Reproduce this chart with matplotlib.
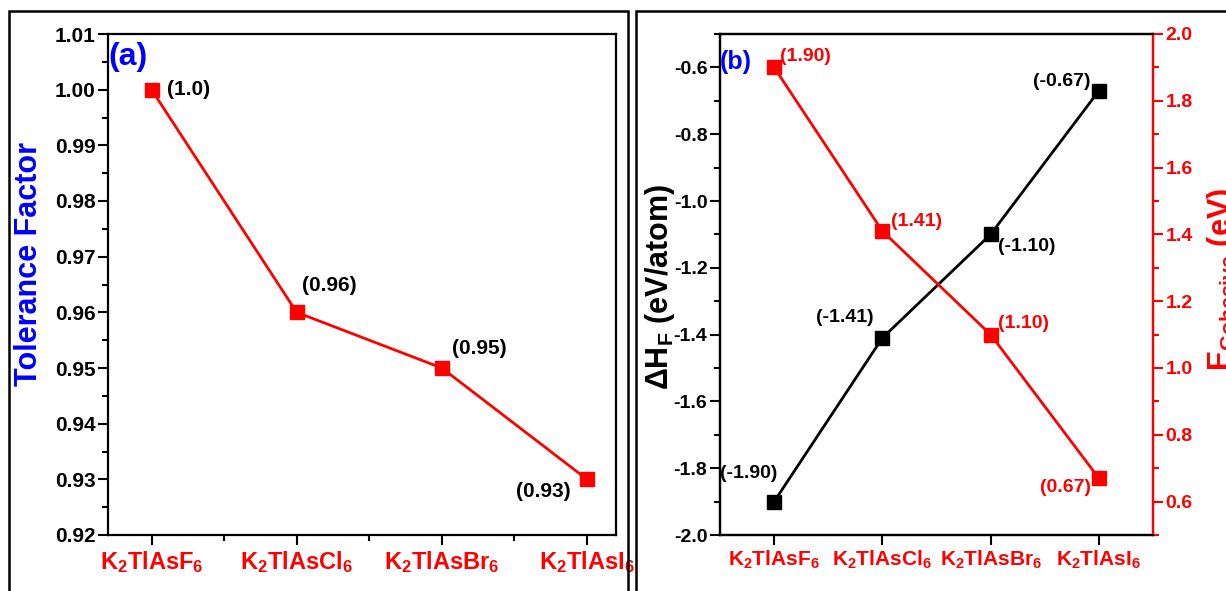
import matplotlib
matplotlib.use('Agg')
import matplotlib.pyplot as plt
from matplotlib.patches import Rectangle
from matplotlib.ticker import MultipleLocator

fam = ['Liberation Sans', 'DejaVu Sans']
plt.rcParams['font.family'] = fam
plt.rcParams['font.weight'] = 'bold'
plt.rcParams['mathtext.fontset'] = 'custom'
plt.rcParams['mathtext.rm'] = 'Liberation Sans:bold'
plt.rcParams['mathtext.it'] = 'Liberation Sans:bold'
plt.rcParams['mathtext.bf'] = 'Liberation Sans:bold'

compounds = ['K$_2$TlAsF$_6$', 'K$_2$TlAsCl$_6$', 'K$_2$TlAsBr$_6$', 'K$_2$TlAsI$_6$']
tolerance = [1.00, 0.96, 0.95, 0.93]
tol_labels = ['(1.0)', '(0.96)', '(0.95)', '(0.93)']
formation = [-1.90, -1.41, -1.10, -0.67]
form_labels = ['(-1.90)', '(-1.41)', '(-1.10)', '(-0.67)']
cohesive = [1.90, 1.41, 1.10, 0.67]
coh_labels = ['(1.90)', '(1.41)', '(1.10)', '(0.67)']

fig = plt.figure(figsize=(12.26, 5.91), dpi=100)
W, H = 1226, 591

# outer boxes around each panel
fig.patches.append(Rectangle((9 / W, -0.05), (628 - 9) / W, 1.05 - 11 / H, transform=fig.transFigure,
                             fill=False, lw=1.8, ec='black'))
fig.patches.append(Rectangle((636 / W, -0.05), 0.5, 1.05 - 11 / H, transform=fig.transFigure,
                             fill=False, lw=1.8, ec='black'))


def style(ax, ysize):
    for s in ax.spines.values():
        s.set_linewidth(1.6)
    ax.tick_params(which='major', direction='out', length=7, width=1.5, pad=2)
    ax.tick_params(which='minor', direction='out', length=4, width=1.5)
    ax.tick_params(axis='y', labelsize=ysize)
    ax.tick_params(axis='x', pad=3)


# ---- panel (a)
ax1 = fig.add_axes([108 / W, 1 - 535 / H, (616 - 108) / W, (535 - 34) / H])
x = range(len(compounds))
ax1.plot(x, tolerance, color='red', lw=2, marker='s', ms=10, mec='red')
ax1.set_xlim(-0.3, 3.2)
ax1.set_ylim(0.92, 1.01)
ax1.yaxis.set_major_locator(MultipleLocator(0.01))
ax1.yaxis.set_minor_locator(MultipleLocator(0.005))
ax1.xaxis.set_minor_locator(MultipleLocator(0.5))
ax1.set_xticks(list(x))
ax1.set_xticklabels(compounds, color='red', fontsize=17)
ax1.set_yticklabels([f'{v:.2f}' for v in ax1.get_yticks()])
style(ax1, 15)
ax1.set_ylabel('Tolerance Factor', color='blue', fontsize=22, weight='bold')
ax1.yaxis.set_label_coords(-0.125, 0.54)
ax1.text(0.0, 0.954, '(a)', color='blue', fontsize=23, transform=ax1.transAxes, va='center', ha='left')
offs = [(11, 0, 'left', 'center'), (4, 19, 'left', 'center'), (7, 14, 'left', 'center'), (-12, -9, 'right', 'center')]
for i, (dx, dy, ha, va) in enumerate(offs):
    ax1.annotate(tol_labels[i], (i, tolerance[i]), xytext=(dx, dy), textcoords='offset points',
                 ha=ha, va=va, fontsize=15, color='black')

# ---- panel (b)
ax2 = fig.add_axes([720 / W, 1 - 535 / H, (1153 - 720) / W, (535 - 34) / H])
ax2.plot(x, formation, color='black', lw=2, marker='s', ms=10)
ax2.set_xlim(-0.5, 3.5)
ax2.set_ylim(-2.0, -0.5)
ax2.yaxis.set_minor_locator(MultipleLocator(0.1))
ax2.set_xticks(list(x))
ax2.set_xticklabels(compounds, color='red', fontsize=15)
yt = [-2.0, -1.8, -1.6, -1.4, -1.2, -1.0, -0.8, -0.6]
ax2.set_yticks(yt)
ax2.set_yticklabels([f'{v:.1f}' for v in yt])
style(ax2, 14)
ax2.set_ylabel('ΔH$_F$ (eV/atom)', fontsize=22, weight='bold')
ax2.yaxis.set_label_coords(-0.1, 0.495)
ax2.text(0.0, 0.944, '(b)', color='blue', fontsize=18, transform=ax2.transAxes, va='center', ha='left')
offs_b = [(2, 20, 'right', 'center'), (-6, 15, 'right', 'center'), (5, -9, 'left', 'center'), (-6, 7, 'right', 'center')]
for i, (dx, dy, ha, va) in enumerate(offs_b):
    ax2.annotate(form_labels[i], (i, formation[i]), xytext=(dx, dy), textcoords='offset points',
                 ha=ha, va=va, fontsize=14, color='black')

ax3 = ax2.twinx()
ax3.plot(x, cohesive, color='red', lw=2, marker='s', ms=10)
ax3.set_ylim(0.5, 2.0)
yt3 = [0.6, 0.8, 1.0, 1.2, 1.4, 1.6, 1.8, 2.0]
ax3.set_yticks(yt3)
ax3.set_yticklabels([f'{v:.1f}' for v in yt3])
ax3.yaxis.set_minor_locator(MultipleLocator(0.1))
style(ax3, 14)
ax3.spines['right'].set_color('red')
ax3.tick_params(axis='y', which='both', colors='red')
ax3.set_ylabel('E$_{Cohesive}$ (eV)', color='red', fontsize=22, weight='bold')
ax3.yaxis.set_label_coords(1.12, 0.51)
offs_c = [(4, 8, 'left', 'center'), (6, 7, 'left', 'center'), (5, 8, 'left', 'center'), (-6, -7, 'right', 'center')]
for i, (dx, dy, ha, va) in enumerate(offs_c):
    ax3.annotate(coh_labels[i], (i, cohesive[i]), xytext=(dx, dy), textcoords='offset points',
                 ha=ha, va=va, fontsize=14, color='red')

fig.savefig('out.png', dpi=100)
